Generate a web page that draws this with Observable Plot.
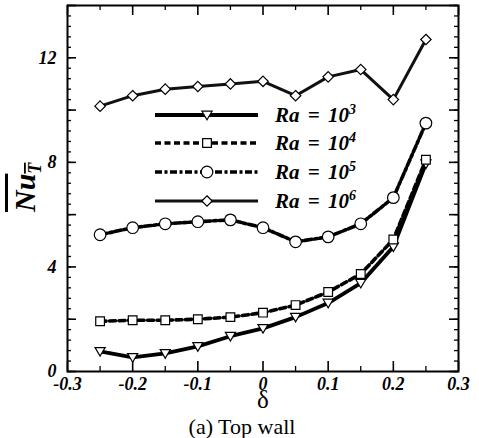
<!DOCTYPE html>
<html>
<head>
<meta charset="utf-8">
<script src="https://cdn.jsdelivr.net/npm/d3@7"></script>
<script src="https://cdn.jsdelivr.net/npm/@observablehq/plot@0.6"></script>
<style>
  html, body { margin: 0; padding: 0; background: #fff; }
  #chart svg { display: block; }
  .bi { font-family: "Liberation Serif", serif; font-style: italic; font-weight: bold; fill: #000; }
</style>
</head>
<body>
<div id="chart"></div>
<script>
// ---- data ----
const delta = [-0.25, -0.2, -0.15, -0.1, -0.05, 0, 0.05, 0.1, 0.15, 0.2, 0.25];
const nuRa3 = [0.77, 0.54, 0.69, 0.96, 1.35, 1.65, 2.08, 2.62, 3.38, 4.77, 7.95];
const nuRa4 = [1.92, 1.96, 1.96, 2.0, 2.08, 2.25, 2.54, 3.04, 3.73, 5.05, 8.1];
const nuRa5 = [5.23, 5.5, 5.65, 5.73, 5.8, 5.5, 4.96, 5.15, 5.65, 6.65, 9.5];
const nuRa6 = [10.15, 10.55, 10.8, 10.9, 11.0, 11.1, 10.55, 11.27, 11.55, 10.4, 12.7];
const raExponents = ["3", "4", "5", "6"];
const xTickValues = [-0.3, -0.2, -0.1, 0, 0.1, 0.2, 0.3];
const xMinorTicks = [-0.25, -0.15, -0.05, 0.05, 0.15, 0.25];
const yTickValues = [0, 4, 8, 12];
const yMediumTicks = [0, 2, 4, 6, 8, 10, 12, 14];
const yMinorTicks = d3.range(0, 14.01, 0.4).map(v => +v.toFixed(1));

// ---- layout ----
const W = 479, H = 438;
const mL = 67, mR = 21, mT = 5, mB = 67;
const plotW = W - mL - mR, plotH = H - mT - mB;

const triDown = {
  draw(ctx, size) {
    const s = Math.sqrt(size) * 0.62;
    ctx.moveTo(-s, -s * 0.75);
    ctx.lineTo(s, -s * 0.75);
    ctx.lineTo(0, s * 0.95);
    ctx.closePath();
  }
};

const series = [
  {vals: nuRa3, symbol: triDown, r: 4.6, dash: null, sw: 3.8, stroke: "#000"},
  {vals: nuRa4, symbol: "square", r: 4.9, dash: "6,3.5", sw: 3.6, stroke: "#000"},
  {vals: nuRa5, symbol: "circle", r: 5.8, dash: "7,2.5,3,2.5", sw: 3.6, stroke: "#000"},
  {vals: nuRa6, symbol: "diamond2", r: 4.7, dash: null, sw: 3, stroke: "#111"}
];

const fmtX = d => d === 0 ? "0" : d.toFixed(1).replace("\u2212", "-");
const biFont = {fontFamily: "Liberation Serif", fontStyle: "italic", fontWeight: "bold"};

const marks = [];
for (const s of series) {
  const rows = delta.map((d, i) => ({delta: d, nu: s.vals[i]}));
  marks.push(Plot.line(rows, {x: "delta", y: "nu", stroke: s.stroke, strokeWidth: s.sw,
    strokeDasharray: s.dash, strokeLinejoin: "round"}));
}
for (const s of series) {
  const rows = delta.map((d, i) => ({delta: d, nu: s.vals[i]}));
  marks.push(Plot.dot(rows, {x: "delta", y: "nu", symbol: s.symbol, r: s.r,
    fill: "#fff", stroke: "#000", strokeWidth: 1.2}));
}
// inward ticks: left / right
marks.push(Plot.tickY(yMinorTicks, {y: d => d, insetRight: plotW - 4, stroke: "#000", strokeWidth: 1.3}));
marks.push(Plot.tickY(yMediumTicks, {y: d => d, insetRight: plotW - 9, stroke: "#000", strokeWidth: 1.6}));
marks.push(Plot.tickY(yMinorTicks, {y: d => d, insetLeft: plotW - 4, stroke: "#000", strokeWidth: 1.3}));
marks.push(Plot.tickY(yMediumTicks, {y: d => d, insetLeft: plotW - 9, stroke: "#000", strokeWidth: 1.6}));
// inward ticks: bottom / top
marks.push(Plot.tickX(xMinorTicks, {x: d => d, insetTop: plotH - 5, stroke: "#000", strokeWidth: 1.3}));
marks.push(Plot.tickX(xTickValues, {x: d => d, insetTop: plotH - 10, stroke: "#000", strokeWidth: 1.6}));
marks.push(Plot.tickX(xMinorTicks, {x: d => d, insetBottom: plotH - 5, stroke: "#000", strokeWidth: 1.3}));
marks.push(Plot.tickX(xTickValues, {x: d => d, insetBottom: plotH - 10, stroke: "#000", strokeWidth: 1.6}));
// axis labels
marks.push(Plot.axisX(xTickValues, {tickSize: 0, tickPadding: 6, tickFormat: fmtX, label: null,
  fontSize: 18, ...biFont}));
marks.push(Plot.axisY(yTickValues, {tickSize: 0, tickPadding: 11, tickFormat: d => String(d), label: null,
  fontSize: 18, ...biFont}));
marks.push(Plot.frame({stroke: "#000", strokeWidth: 2}));
// x label and caption
marks.push(Plot.text(["\u03b4"], {text: d => d, frameAnchor: "bottom", lineAnchor: "bottom", dy: 36,
  fontFamily: "Liberation Serif", fontSize: 25}));
marks.push(Plot.text(["(a) Top wall"], {text: d => d, frameAnchor: "bottom", lineAnchor: "bottom", dx: -21, dy: 62,
  fontFamily: "Liberation Serif", fontSize: 22}));

const chart = Plot.plot({
  width: W, height: H,
  marginLeft: mL, marginRight: mR, marginTop: mT, marginBottom: mB,
  x: {domain: [-0.3, 0.3]},
  y: {domain: [0, 14]},
  style: {background: "#fff", color: "#000"},
  marks
});
document.getElementById("chart").appendChild(chart);
const svg = d3.select(chart);

// ---- y axis title: overlined Nu with subscript T ----
const yl = svg.append("text")
  .attr("class", "bi")
  .attr("text-anchor", "start")
  .attr("transform", "translate(35,212) rotate(-90)")
  .attr("font-size", 30)
  .style("text-decoration", "overline");
yl.append("tspan").text("Nu");
yl.append("tspan").attr("font-size", 18).attr("dy", 6).text("T");

// ---- legend ----
const legRowY = [115, 143, 172, 201];
const legX1 = 155, legX2 = 258, legMark = 207, legText = 275;
series.forEach((s, i) => {
  const g = svg.append("g").attr("transform", `translate(0,${legRowY[i]})`);
  g.append("line").attr("x1", legX1).attr("x2", legX2).attr("y1", 0).attr("y2", 0)
    .attr("stroke", s.stroke).attr("stroke-width", s.sw)
    .attr("stroke-dasharray", s.dash);
  const symType = s.symbol === "square" ? d3.symbolSquare
    : s.symbol === "circle" ? d3.symbolCircle
    : s.symbol === "diamond2" ? d3.symbolDiamond2 : s.symbol;
  g.append("path").attr("transform", `translate(${legMark},0)`)
    .attr("d", d3.symbol(symType, Math.PI * s.r * s.r)())
    .attr("fill", "#fff").attr("stroke", "#000").attr("stroke-width", 1.2);
  const t = g.append("text").attr("class", "bi").attr("text-anchor", "start")
    .attr("x", legText).attr("y", 7)
    .attr("font-size", 21).attr("word-spacing", "3px");
  t.append("tspan").text("Ra = 10");
  t.append("tspan").attr("font-size", 14).attr("dy", -8).text(raExponents[i]);
});
</script>
</body>
</html>
